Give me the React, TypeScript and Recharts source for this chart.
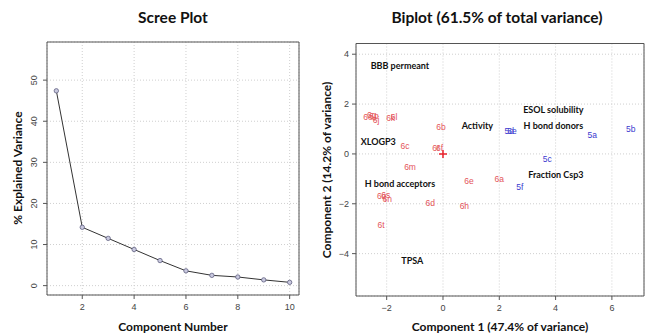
import React from 'react';
import {
    LineChart, Line, ScatterChart, Scatter, XAxis, YAxis, CartesianGrid, ReferenceArea,
} from 'recharts';

// Scree plot values
const componentNumbers = [1, 2, 3, 4, 5, 6, 7, 8, 9, 10];
const explainedVariance = [47.4, 14.2, 11.5, 8.8, 6.1, 3.6, 2.5, 2.1, 1.4, 0.8];

// Biplot scores: series 6 compounds (red)
const redLabels = ['6o', '6g', '6p', '6j', '6k', '6l', '6b', '6c', '6r', '6f', '6m', '6e', '6a', '6d', '6h', '6t', '6q', '6s', '6n'];
const redPc1 = [-2.66, -2.53, -2.45, -2.38, -1.86, -1.74, -0.07, -1.35, -0.25, -0.12, -1.17, 0.92, 2.0, -0.45, 0.76, -2.2, -2.18, -2.03, -1.98];
const redPc2 = [1.5, 1.55, 1.53, 1.38, 1.44, 1.5, 1.07, 0.3, 0.25, 0.25, -0.51, -1.09, -1.0, -1.96, -2.09, -2.86, -1.7, -1.66, -1.81];

// Biplot scores: series 5 compounds (blue)
const blueLabels = ['5d', '5e', '5a', '5b', '5c', '5f'];
const bluePc1 = [2.35, 2.45, 5.3, 6.67, 3.7, 2.73];
const bluePc2 = [0.9, 0.9, 0.76, 0.99, -0.2, -1.31];

// Variable labels (loadings)
const varNames = ['BBB permeant', 'ESOL solubility', 'Activity', 'H bond donors', 'XLOGP3', 'Fraction Csp3', 'H bond acceptors', 'TPSA'];
const varPc1 = [-1.53, 3.92, 1.22, 3.92, -2.3, 4.01, -1.53, -1.09];
const varPc2 = [3.55, 1.8, 1.13, 1.13, 0.5, -0.82, -1.18, -4.27];

const screeTicksX = [2, 4, 6, 8, 10];
const screeTicksY = [0, 10, 20, 30, 40, 50];
const biplotTicksX = [-2, 0, 2, 4, 6];
const biplotTicksY = [-4, -2, 0, 2, 4];

const screeData = componentNumbers.map((c, i) => ({ comp: c, pct: explainedVariance[i] }));
const redData = redLabels.map((l, i) => ({ x: redPc1[i], y: redPc2[i], label: l }));
const blueData = blueLabels.map((l, i) => ({ x: bluePc1[i], y: bluePc2[i], label: l }));
const varData = varNames.map((l, i) => ({ x: varPc1[i], y: varPc2[i], label: l }));
const originData = [{ x: 0, y: 0 }];

const TITLE_FONT = 'Lato, "Open Sans", sans-serif';
const TICK_FONT = '"Liberation Sans", Arial, sans-serif';
const BOX = '#555';
const GRID = '#cfcfcf';

const minus = (v: number) => (v < 0 ? `\u2212${-v}` : `${v}`);

const styles = {
    page: {
        position: 'absolute',
        left: 0,
        top: 0,
        width: 646,
        height: 334,
        background: '#fff',
        overflow: 'hidden',
    } as React.CSSProperties,
    title: {
        position: 'absolute',
        top: 8,
        fontFamily: TITLE_FONT,
        fontWeight: 700,
        fontSize: 15.5,
        color: '#111',
        textAlign: 'center',
        whiteSpace: 'nowrap',
    } as React.CSSProperties,
};

const screeYTick = (props: any) => {
    const { y, payload } = props;
    return (
        <text x={37} y={y} transform={`rotate(-90, 37, ${y})`} textAnchor="middle"
            fontFamily={TICK_FONT} fontSize={9} fill="#444">
            {payload.value}
        </text>
    );
};

const pointLabel = (color: string) => (props: any) => (
    <text x={props.cx} y={props.cy} textAnchor="middle" dominantBaseline="central"
        fontFamily={TICK_FONT} fontSize={8.5} fill={color}>
        {props.payload.label}
    </text>
);

const varLabel = (props: any) => (
    <text x={props.cx} y={props.cy} textAnchor="middle" dominantBaseline="central"
        fontFamily={TITLE_FONT} fontWeight={700} fontSize={9} fill="#111">
        {props.payload.label}
    </text>
);

const originCross = (props: any) => (
    <g stroke="#e8202a" strokeWidth={1.5}>
        <line x1={props.cx - 4} y1={props.cy} x2={props.cx + 4} y2={props.cy} />
        <line x1={props.cx} y1={props.cy - 4} x2={props.cx} y2={props.cy + 4} />
    </g>
);

const emptyTick = () => <g />;

const ScreePlot = () => (
    <LineChart width={320} height={334} data={screeData}
        margin={{ top: 42, right: 21, bottom: 0, left: 0 }}>
        <CartesianGrid stroke={GRID} strokeDasharray="1 2" />
        <XAxis dataKey="comp" type="number" domain={[0.64, 10.36]} ticks={screeTicksX}
            allowDataOverflow height={39} axisLine={false} tickSize={4} tickMargin={5}
            tickLine={{ stroke: BOX }} tick={{ fontFamily: TICK_FONT, fontSize: 9, fill: '#444' }} />
        <YAxis type="number" domain={[-2.28, 59.28]} ticks={screeTicksY} allowDataOverflow
            width={47} axisLine={false} tickSize={4} tickLine={{ stroke: BOX }} tick={screeYTick} />
        <ReferenceArea x1={0.64} x2={10.36} y1={-2.28} y2={59.28} fill="none" stroke={BOX}
            strokeWidth={1} ifOverflow="visible" />
        <Line dataKey="pct" stroke="#333" strokeWidth={1} isAnimationActive={false}
            dot={{ r: 2.2, fill: '#c9c9df', stroke: '#5f5f80', strokeWidth: 0.8 }} />
    </LineChart>
);

const BiPlot = () => (
    <ScatterChart width={326} height={334} margin={{ top: 43.5, right: 2, bottom: 0, left: 0 }}>
        <CartesianGrid stroke={GRID} strokeDasharray="1 2" xAxisId="b" yAxisId="l" />
        <XAxis xAxisId="b" dataKey="x" type="number" domain={[-3.09, 7.14]} ticks={biplotTicksX}
            allowDataOverflow height={38} axisLine={false} tickSize={4} tickMargin={5}
            tickFormatter={minus} tickLine={{ stroke: BOX }}
            tick={{ fontFamily: TICK_FONT, fontSize: 9, fill: '#444' }} />
        <XAxis xAxisId="t" orientation="top" dataKey="x" type="number" domain={[-3.09, 7.14]}
            ticks={biplotTicksX} allowDataOverflow height={0} axisLine={false} tickSize={4}
            tickLine={{ stroke: BOX }} tick={emptyTick} />
        <YAxis yAxisId="l" dataKey="y" type="number" domain={[-5.7, 4.43]} ticks={biplotTicksY}
            allowDataOverflow width={36} axisLine={false} tickSize={4} tickMargin={3}
            tickFormatter={minus} tickLine={{ stroke: BOX }}
            tick={{ fontFamily: TICK_FONT, fontSize: 9, fill: '#444' }} />
        <YAxis yAxisId="r" orientation="right" dataKey="y" type="number" domain={[-5.7, 4.43]}
            ticks={biplotTicksY} allowDataOverflow width={0} axisLine={false} tickSize={3}
            tickLine={{ stroke: BOX }} tick={emptyTick} />
        <ReferenceArea xAxisId="b" yAxisId="l" x1={-3.09} x2={7.14} y1={-5.7} y2={4.43}
            fill="none" stroke={BOX} strokeWidth={1} ifOverflow="visible" />
        <Scatter xAxisId="b" yAxisId="l" data={redData} shape={pointLabel('#e4545a')} isAnimationActive={false} />
        <Scatter xAxisId="b" yAxisId="l" data={blueData} shape={pointLabel('#3b3bcf')} isAnimationActive={false} />
        <Scatter xAxisId="b" yAxisId="l" data={varData} shape={varLabel} isAnimationActive={false} />
        <Scatter xAxisId="b" yAxisId="l" data={originData} shape={originCross} isAnimationActive={false} />
    </ScatterChart>
);

export default function App() {
    return (
        <div style={styles.page}>
            <div style={{ ...styles.title, left: 47, width: 252 }}>Scree Plot</div>
            <div style={{ ...styles.title, left: 356, width: 282 }}>Biplot (61.5% of total variance)</div>

            <div style={{ position: 'absolute', left: 0, top: 0 }}>
                <ScreePlot />
            </div>
            <div style={{ position: 'absolute', left: 320, top: 0 }}>
                <BiPlot />
            </div>

            {/* axis titles */}
            <svg width={646} height={334} style={{ position: 'absolute', left: 0, top: 0, pointerEvents: 'none' }}>
                <g fontFamily={TITLE_FONT} fontWeight={700} fill="#111" fontSize={12}>
                    <text x={173} y={326.5} textAnchor="middle" dominantBaseline="central">Component Number</text>
                    <text x={17} y={168} textAnchor="middle" dominantBaseline="central"
                        transform="rotate(-90, 17, 168)">% Explained Variance</text>
                    <text x={500} y={326.5} textAnchor="middle" dominantBaseline="central">Component 1 (47.4% of variance)</text>
                    <text x={326} y={170} textAnchor="middle" dominantBaseline="central"
                        transform="rotate(-90, 326, 170)">Component 2 (14.2% of variance)</text>
                </g>
            </svg>
        </div>
    );
}
